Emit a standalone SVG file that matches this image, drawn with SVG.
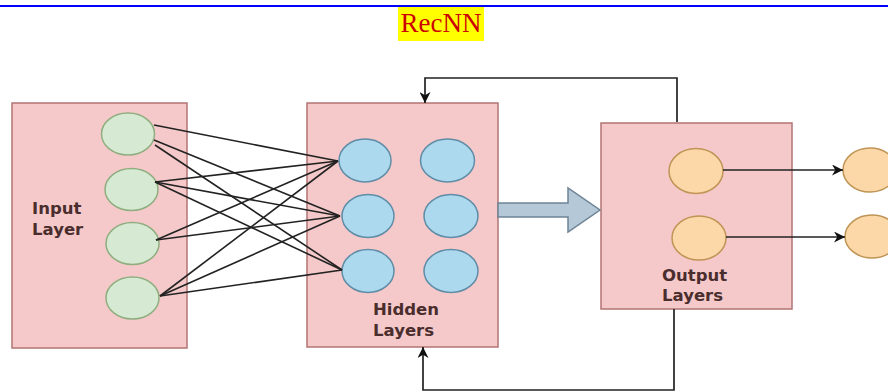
<svg xmlns="http://www.w3.org/2000/svg" width="888" height="392" viewBox="0 0 888 392">
<defs>
<style>
.box{fill:#f5c9c9;stroke:#b27474;stroke-width:1.5}
.in{fill:#d6ead3;stroke:#8fae80;stroke-width:1.5}
.hid{fill:#acd9ee;stroke:#5f8ca6;stroke-width:1.5}
.out{fill:#fcd8a9;stroke:#bf9455;stroke-width:1.5}
.lbl{font-family:"DejaVu Sans",sans-serif;font-weight:bold;font-size:16.5px;fill:#4a2d2d}
.w{stroke:#222;stroke-width:1.6;fill:none}
.fb{stroke:#222;stroke-width:1.7;fill:none}
</style>
<marker id="ah" viewBox="0 0 10 10" refX="10" refY="5" markerWidth="11" markerHeight="11" markerUnits="userSpaceOnUse" orient="auto">
<path d="M0,0 L10,5 L0,10 L3,5 Z" fill="#111"/>
</marker>
</defs>
<rect width="888" height="392" fill="#fff"/>
<line x1="0" y1="6" x2="888" y2="6" stroke="#0000ff" stroke-width="2"/>
<g id="title">
<rect x="398" y="7" width="86" height="34" fill="#ffff00"/>
<text x="441" y="32" text-anchor="middle" font-family="'Liberation Serif',serif" font-size="27" fill="#cc0000">RecNN</text>
</g>
<g id="input-layer">
<rect class="box" x="12" y="103" width="175" height="245"/>
<ellipse class="in" cx="128" cy="134" rx="26.5" ry="21"/>
<ellipse class="in" cx="131.5" cy="189.5" rx="26.5" ry="21"/>
<ellipse class="in" cx="132.5" cy="243.5" rx="26.5" ry="21"/>
<ellipse class="in" cx="132.5" cy="298" rx="26.5" ry="21"/>
<text class="lbl" x="32" y="214">Input</text>
<text class="lbl" x="32" y="234.5">Layer</text>
</g>
<g id="hidden-layers">
<rect class="box" x="307" y="103" width="191" height="244"/>
<ellipse class="hid" cx="365" cy="160.5" rx="26" ry="21.5"/>
<ellipse class="hid" cx="368" cy="216" rx="26" ry="21.5"/>
<ellipse class="hid" cx="368" cy="271" rx="26" ry="21.5"/>
<ellipse class="hid" cx="447.5" cy="160.5" rx="27" ry="21.5"/>
<ellipse class="hid" cx="451" cy="216" rx="27" ry="21.5"/>
<ellipse class="hid" cx="451" cy="271" rx="27" ry="21.5"/>
<text class="lbl" x="373" y="315" font-size="17">Hidden</text>
<text class="lbl" x="373" y="336" font-size="17">Layers</text>
</g>
<g id="output-layers">
<rect class="box" x="601" y="123" width="191" height="186"/>
<ellipse class="out" cx="696" cy="171" rx="27" ry="22.5"/>
<ellipse class="out" cx="699" cy="238" rx="27" ry="22"/>
<text class="lbl" x="662" y="281" font-size="17">Output</text>
<text class="lbl" x="662" y="301" font-size="17">Layers</text>
</g>
<g id="outputs">
<ellipse class="out" cx="870" cy="170" rx="27" ry="22"/>
<ellipse class="out" cx="872" cy="236.5" rx="27" ry="21.5"/>
</g>
<g id="connectors">
<line class="w" x1="154" y1="125" x2="338" y2="161"/>
<line class="w" x1="154" y1="140" x2="340" y2="216"/>
<line class="w" x1="155" y1="145" x2="342" y2="270"/>
<line class="w" x1="155" y1="182" x2="338" y2="161"/>
<line class="w" x1="155" y1="182" x2="340" y2="216"/>
<line class="w" x1="155" y1="182" x2="342" y2="270"/>
<line class="w" x1="156" y1="240" x2="338" y2="161"/>
<line class="w" x1="156" y1="240" x2="340" y2="216"/>
<line class="w" x1="160" y1="296" x2="338" y2="161"/>
<line class="w" x1="160" y1="296" x2="340" y2="216"/>
<line class="w" x1="160" y1="296" x2="342" y2="270"/>
<path d="M498,203 H568 V188 L600,210 L568,232 V217 H498 Z" fill="#b4c8d8" stroke="#6e8496" stroke-width="1.5"/>
<path class="fb" d="M677,122 V78 H425 V103" marker-end="url(#ah)"/>
<path class="fb" d="M674,309 V390 H423 V347" marker-end="url(#ah)"/>
<line class="fb" x1="723" y1="170" x2="843" y2="170" stroke-width="1.4" marker-end="url(#ah)"/>
<line class="fb" x1="726" y1="237" x2="845" y2="237" stroke-width="1.4" marker-end="url(#ah)"/>
</g>
</svg>
